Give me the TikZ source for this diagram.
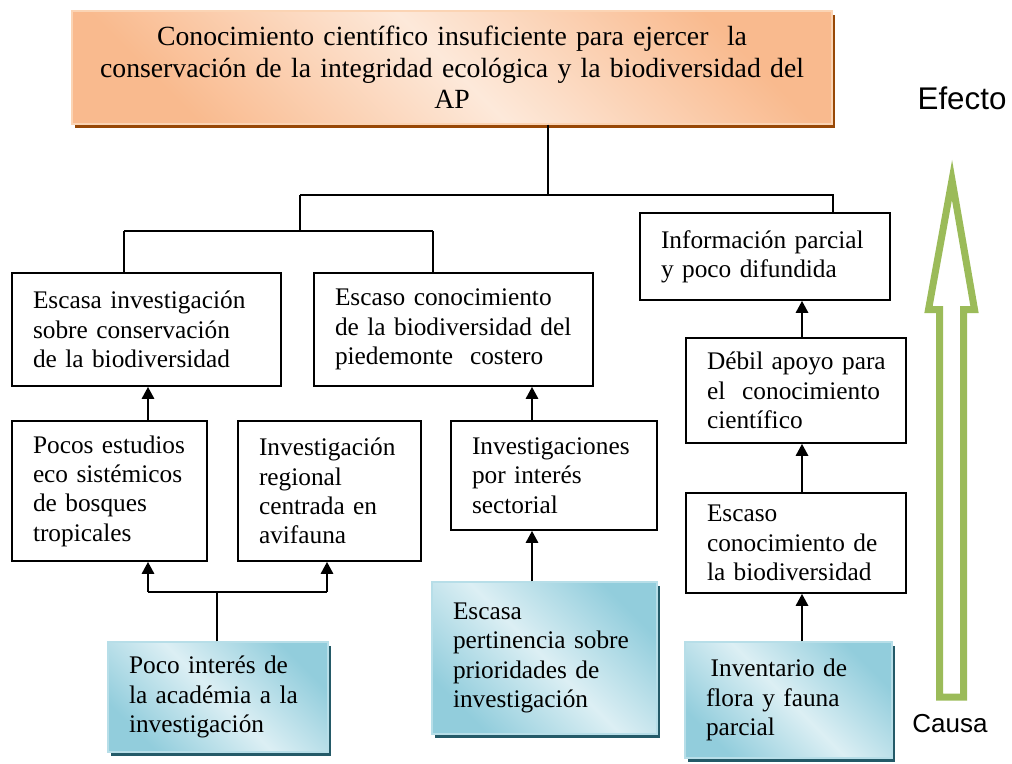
\documentclass[tikz,border=0pt]{standalone}
\usepackage{fontspec}
\setmainfont{Liberation Serif}
\newfontfamily\arialf{Liberation Sans}
\usetikzlibrary{arrows.meta,shadows}
\definecolor{bdark}{HTML}{92CDDC}
\definecolor{blight}{HTML}{DCEFF4}
\definecolor{bshadow}{HTML}{245A68}
\definecolor{bborder}{HTML}{B7DEE8}
\definecolor{odark}{HTML}{F9BA8E}
\definecolor{olight}{HTML}{FDE9DA}
\definecolor{oshadow}{HTML}{984806}
\definecolor{oborder}{HTML}{FBD4B4}
\definecolor{garrow}{HTML}{9BBB59}
\pgfdeclarehorizontalshading{bluemir}{100bp}{color(0bp)=(bdark); color(25bp)=(bdark); color(50bp)=(blight); color(75bp)=(bdark); color(100bp)=(bdark)}
\pgfdeclarehorizontalshading{orangemir}{100bp}{color(0bp)=(odark); color(25bp)=(odark); color(50bp)=(olight); color(75bp)=(odark); color(100bp)=(odark)}
\newcommand\mkbox[7]{%
  \pgfmathsetmacro\bw{(#4-#2)*0.75}%
  \pgfmathsetmacro\bh{(#5-#3)*0.75}%
  \pgfmathsetmacro\tw{(#4-#2)*0.75-3}%
  \node[#6, minimum width=\bw pt, minimum height=\bh pt, text width=\tw pt] (#1) at ({(#2+#4)/2},{(#3+#5)/2}) {#7\par};%
}
\newcommand\lft{\leftskip=14.25pt\relax}
\begin{document}
\begin{tikzpicture}[x=0.75pt,y=-0.75pt,
  boxtext/.style={font=\fontsize{19}{22}\selectfont, align=left, inner xsep=1.5pt, inner ysep=0pt},
  plainbox/.style={boxtext, draw=black, line width=1.2pt, fill=white},
  bluebox/.style={boxtext, draw=bborder, line width=0.8pt, shade, shading=bluemir, shading angle=45,
     general shadow={fill=bshadow, shadow xshift=2.6pt, shadow yshift=-3pt}},
  topbox/.style={draw=oborder, line width=0.8pt, shade, shading=orangemir, shading angle=45,
     font=\fontsize{20.8}{23.6}\selectfont, align=center, inner xsep=1.5pt, inner ysep=0pt,
     general shadow={fill=oshadow, shadow xshift=2.6pt, shadow yshift=-3pt}},
  tree/.style={draw=black, line width=1.1pt},
  arr/.style={draw=black, line width=2pt, -{Triangle[width=9pt,length=9pt]}},
  arrline/.style={draw=black, line width=2pt},
  bigarrow/.style={draw=garrow, line width=5.25pt, line join=miter, miter limit=10},
  sidelabel/.style={font=\arialf, inner sep=0pt}
]
\useasboundingbox (0,0) rectangle (1012,763);

% top box
\mkbox{top}{72}{11}{832}{124}{topbox}{\raisebox{-6.5pt}{\parbox{\tw pt}{\centering Conocimiento científico insuficiente para ejercer~ la\\conservación de la integridad ecológica y la biodiversidad del\\AP}}}

% plain boxes
\mkbox{A}{12}{273}{281}{386}{plainbox}{\lft Escasa investigación\\sobre conservación\\de la biodiversidad}
\mkbox{B}{314}{273}{593}{386}{plainbox}{\lft Escaso conocimiento\\de la biodiversidad del\\piedemonte~ costero}
\mkbox{C}{640}{213}{890}{300}{plainbox}{\lft Información parcial\\y poco difundida}
\mkbox{D}{686}{338}{906}{443}{plainbox}{\lft Débil apoyo para\\el~ conocimiento\\científico}
\mkbox{E}{686}{493}{906}{593}{plainbox}{\lft Escaso\\conocimiento de\\la biodiversidad}
\mkbox{F}{12}{421}{207}{561}{plainbox}{\lft Pocos estudios\\eco sistémicos\\de bosques\\tropicales}
\mkbox{G}{238}{421}{421}{561}{plainbox}{\lft Investigación\\regional\\centrada en\\avifauna}
\mkbox{H}{451}{421}{657}{530}{plainbox}{\lft Investigaciones\\por interés\\sectorial}

% blue boxes
\mkbox{b1}{108}{642}{328}{752}{bluebox}{\lft Poco interés de\\la académia a la\\investigación}
\mkbox{b2}{432}{582}{657}{734}{bluebox}{\lft Escasa\\pertinencia sobre\\prioridades de\\investigación}
\mkbox{b3}{685}{642}{892}{758}{bluebox}{\lft\hspace{3.5pt}Inventario de\\flora y fauna\\parcial}

% tree connectors
\coordinate (t1) at (548,195);
\coordinate (t2) at (300,195);
\coordinate (t3) at (833,195);
\coordinate (u0) at (300,231);
\coordinate (u1) at (124,231);
\coordinate (u2) at (433,231);
\draw[tree] (top.south -| t1) -- (t1);
\draw[tree] (t2) -- (t3) -- (C.north -| t3);
\draw[tree] (t2) -- (u0);
\draw[tree] (u1) -- (u2);
\draw[tree] (u1) -- (A.north -| u1);
\draw[tree] (u2) -- (B.north -| u2);

% arrow columns
\coordinate (xa) at (148,0);
\coordinate (xh) at (532,0);
\coordinate (xr) at (802,0);
\coordinate (m1) at (217,592);
\coordinate (m2) at (148,592);
\coordinate (m3) at (327,592);

\draw[arr] (F.north -| xa) -- (A.south -| xa);
\draw[arrline] (b1.north -| m1) -- (m1);
\draw[arrline] (m2) -- (m3);
\draw[arr] (m2) -- (F.south -| m2);
\draw[arr] (m3) -- (G.south -| m3);

\draw[arr] (H.north -| xh) -- (B.south -| xh);
\draw[arr] (b2.north -| xh) -- (H.south -| xh);

\draw[arr] (b3.north -| xr) -- (E.south -| xr);
\draw[arr] (E.north -| xr) -- (D.south -| xr);
\draw[arr] (D.north -| xr) -- (C.south -| xr);

% big hollow arrow
\draw[bigarrow] (952,180) -- (974.5,309.5) -- (963.5,309.5) -- (963.5,697)
  -- (939.5,697) -- (939.5,309.5) -- (928.5,309.5) -- cycle;

\node[sidelabel, font=\arialf\fontsize{23.5}{27}\selectfont] (efecto) at (962,98) {Efecto};
\node[sidelabel, font=\arialf\fontsize{19.5}{23}\selectfont] (causa) at (950,724) {Causa};
\end{tikzpicture}
\end{document}
